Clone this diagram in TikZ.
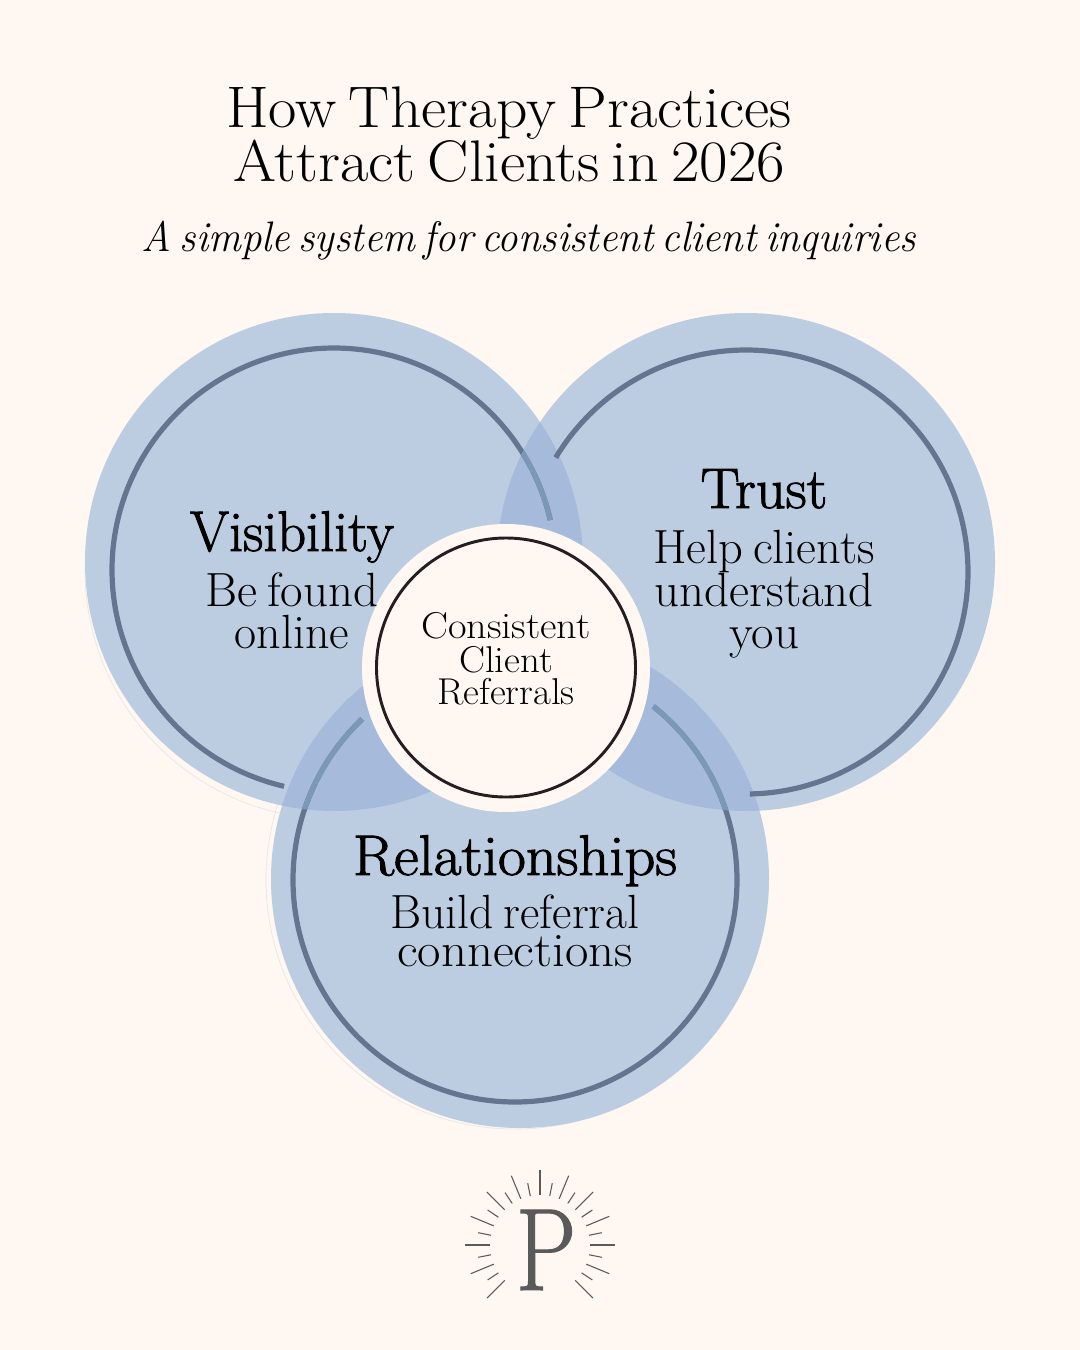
\documentclass[tikz,border=0pt]{standalone}
\usepackage{fontspec}
\newfontfamily\headfont[FakeBold=1.6]{Latin Modern Roman}
\newfontfamily\logofont[FakeBold=1]{Latin Modern Roman}
\newcommand{\tightwords}{\spaceskip=0.2em\relax}
\definecolor{bgc}{HTML}{FEF7F2}
\definecolor{ringc}{HTML}{BDCDE1}
\definecolor{lapc}{HTML}{A6BBDC}
\definecolor{linec}{HTML}{64758F}
\definecolor{lapline}{HTML}{7C98B8}
\definecolor{inkc}{HTML}{231F20}
\definecolor{logoc}{HTML}{5A5A5A}
\definecolor{faintc}{HTML}{E9E6E6}
\tikzset{
 px/.style={x=0.75pt,y=-0.75pt},
 txt/.style={anchor=base,text=black,inner sep=0},
 head/.style={txt,font=\headfont\fontsize{43}{43}\selectfont\tightwords},
 body/.style={txt,font=\fontsize{36}{36}\selectfont\tightwords},
 title/.style={txt,font=\fontsize{44}{44}\selectfont\tightwords},
 subtitle/.style={txt,font=\fontsize{32}{32}\selectfont\itshape\tightwords},
 centre/.style={txt,font=\fontsize{28}{28}\selectfont},
 ringline/.style={line width=3.9pt},
 ray/.style={logoc,line width=0.8pt},
}
\newcommand{\leftring}[1]{\draw[ringline,#1] plot[domain=103:347,samples=120,smooth] ({334+222*cos(\x)},{570+222*sin(\x)});}
\newcommand{\trustring}[1]{\draw[ringline,#1] plot[domain=211:449,samples=120,smooth] ({746+222*cos(\x)},{572+222*sin(\x)});}
\newcommand{\relring}[1]{\draw[ringline,#1] plot[domain=308.5:586.5,samples=140,smooth] ({515+222*cos(\x)},{880+222*sin(\x)});}
\begin{document}
\begin{tikzpicture}[px]
\useasboundingbox (0,0) rectangle (1080,1350);
\fill[bgc] (0,0) rectangle (1080,1350);
\draw[faintc,line width=0.5pt] (334,570) circle (249);
\draw[faintc,line width=0.5pt] (515,880) circle (249);
\fill[ringc] (334,562) circle (249);
\fill[ringc] (746,562) circle (249);
\fill[ringc] (520,879) circle (249);
\begin{scope}
\clip (334,562) circle (249);
\fill[lapc] (746,562) circle (249);
\fill[lapc] (520,879) circle (249);
\end{scope}
\begin{scope}
\clip (746,562) circle (249);
\fill[lapc] (520,879) circle (249);
\end{scope}
\leftring{linec}
\trustring{linec}
\relring{linec}
\begin{scope}
\clip (746,562) circle (249);
\leftring{lapline}
\relring{lapline}
\end{scope}
\begin{scope}
\clip (334,562) circle (249);
\relring{lapline}
\end{scope}
\fill[bgc] (506,668) circle (144);
\draw[inkc,line width=2.2pt] (506,667.5) circle (129.5);
\node[title,xscale=1.05] (t1) at (509,127) {How Therapy Practices};
\node[title,xscale=1.055] (t2) at (509,181) {Attract Clients in 2026};
\node[subtitle,xscale=0.96] (st) at (529,251) {A simple system for consistent client inquiries};
\node[head,xscale=0.98] (v) at (292,551) {Visibility};
\node[body,xscale=1.02] (v1) at (292,606) {Be found};
\node[body,xscale=1.0] (v2) at (292,648) {online};
\node[head,xscale=1.02] (tr) at (764,508) {Trust};
\node[body,xscale=1.01] (tr1) at (764,563) {Help clients};
\node[body,xscale=1.02] (tr2) at (764,606) {understand};
\node[body,xscale=1.02] (tr3) at (764,648) {you};
\node[head,xscale=1.055] (r) at (515,875) {Relationships};
\node[body,xscale=0.99] (r1) at (515,928) {Build referral};
\node[body,xscale=1.06] (r2) at (515,966) {connections};
\node[centre,xscale=1.08] (c1) at (506,638) {Consistent};
\node[centre,xscale=1.04] (c2) at (506,672) {Client};
\node[centre,xscale=1.04] (c3) at (506,704) {Referrals};
\node[anchor=base,font=\logofont\fontsize{88}{88}\selectfont,text=logoc,inner sep=0,xscale=0.82] (p) at (546,1290) {P};
\foreach \a in {0,22.5,45,135,157.5,180,202.5,225,247.5,270,292.5,315,337.5}{
 \draw[ray] ({540+50*cos(\a)},{1245+50*sin(\a)}) -- ({540+75*cos(\a)},{1245+75*sin(\a)});
}
\foreach \a in {11.25,33.75,146.25,168.75,191.25,213.75,236.25,258.75,281.25,303.75,326.25,348.75}{
 \draw[ray] ({540+50*cos(\a)},{1245+50*sin(\a)}) -- ({540+63*cos(\a)},{1245+63*sin(\a)});
}
\end{tikzpicture}
\end{document}
